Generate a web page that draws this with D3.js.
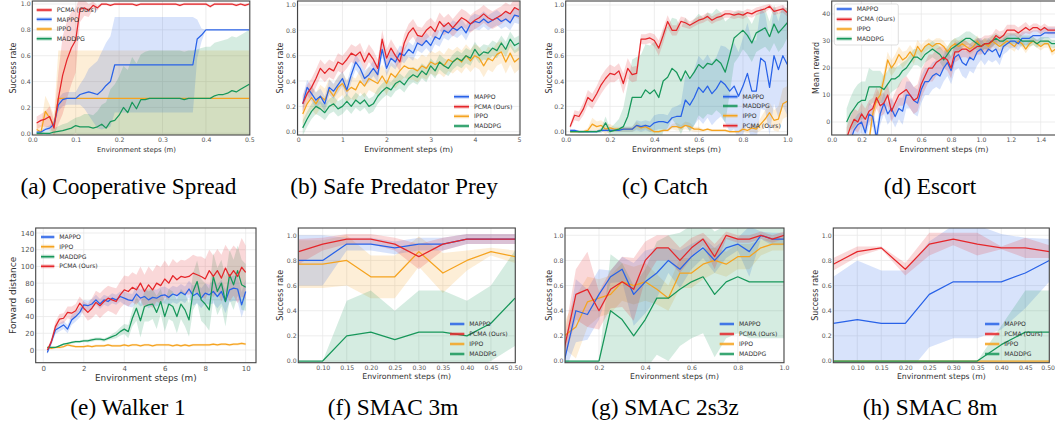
<!DOCTYPE html>
<html><head><meta charset="utf-8">
<script src="https://cdn.jsdelivr.net/npm/d3@7"></script>
<style>body{margin:0;background:#fff}svg{display:block}.cap{font-family:'Liberation Serif','Times New Roman',serif}</style>
</head><body><svg id="c" width="1055" height="429"></svg>
<script>
const steps = (start, step, n) => d3.range(n).map(i => +(start + i * step).toFixed(4));
const SERIES = ['mappo','pcma','ippo','maddpg'];
const NAMES = {mappo:'MAPPO', pcma:'PCMA (Ours)', ippo:'IPPO', maddpg:'MADDPG'};
const COLORS = {mappo:'#2862e8', pcma:'#e5262a', ippo:'#f5a31f', maddpg:'#17975a'};

// (a) Cooperative Spread
const a_x = steps(0.01, 0.01, 50);
const a_pcma = [0.08,0.10,0.11,0.13,0.04,0.27,0.45,0.57,0.66,0.72, 0.96,0.97,0.95,0.99,0.97,1.0,1.0,0.99,1.0,1.0, 1.0,1.0,1.0,0.99,1.0,1.0,1.0,1.0,1.0,1.0, 1.0,1.0,1.0,0.99,1.0,1.0,1.0,1.0,1.0,1.0, 0.98,1.0,1.0,1.0,1.0,1.0,0.99,1.0,0.99,1.0];
const a_pcma_sd = [0.05,0.05,0.06,0.08,0.06,0.2,0.3,0.3,0.28,0.25, 0.1,0.06,0.05,0.03,0.02,0.01,0.01,0.01,0.01,0.01, 0.01,0.01,0.01,0.01,0.01,0.01,0.01,0.01,0.01,0.01, 0.01,0.01,0.01,0.01,0.01,0.01,0.01,0.01,0.01,0.01, 0.01,0.01,0.01,0.01,0.01,0.01,0.01,0.01,0.01,0.01];
const a_mappo = [0.01,0.01,0.03,0.04,0.07,0.22,0.26,0.27,0.27,0.27, 0.30,0.31,0.32,0.31,0.30,0.33,0.37,0.40,0.53,0.53, 0.53,0.53,0.53,0.53,0.53,0.53,0.53,0.53,0.53,0.53, 0.53,0.53,0.53,0.53,0.53,0.53,0.53,0.73,0.76,0.80, 0.80,0.80,0.80,0.80,0.80,0.80,0.80,0.80,0.80,0.80];
const a_mappo_sd = [0.01,0.01,0.02,0.02,0.03,0.05,0.05,0.05,0.05,0.05, 0.08,0.12,0.18,0.22,0.26,0.3,0.33,0.35,0.37,0.37, 0.37,0.37,0.37,0.37,0.37,0.37,0.37,0.37,0.37,0.37, 0.37,0.37,0.37,0.37,0.37,0.37,0.37,0.15,0.05,0, 0,0,0,0,0,0,0,0,0,0];
const a_ippo = [0.03,0.01,0.17,0.12,0.06,0.27,0.27,0.27,0.27,0.27, 0.27,0.27,0.27,0.27,0.27,0.27,0.27,0.27,0.27,0.27, 0.27,0.27,0.27,0.27,0.27,0.27,0.27,0.27,0.27,0.27, 0.27,0.27,0.27,0.27,0.27,0.27,0.27,0.27,0.27,0.27, 0.27,0.27,0.27,0.27,0.27,0.27,0.27,0.27,0.27,0.27];
const a_ippo_sd = [0.05,0.05,0.12,0.1,0.08,0.37,0.37,0.37,0.37,0.37, 0.37,0.37,0.37,0.37,0.37,0.37,0.37,0.37,0.37,0.37, 0.37,0.37,0.37,0.37,0.37,0.37,0.37,0.37,0.37,0.37, 0.37,0.37,0.37,0.37,0.37,0.37,0.37,0.37,0.37,0.37, 0.37,0.37,0.37,0.37,0.37,0.37,0.37,0.37,0.37,0.37];
const a_maddpg = [0,0,0,0,0.01,0.015,0.02,0.03,0.04,0.06, 0.05,0.05,0.05,0.04,0.05,0.07,0.04,0.09,0.10,0.14, 0.20,0.16,0.24,0.19,0.26,0.26,0.27,0.27,0.27,0.27, 0.27,0.27,0.27,0.27,0.26,0.27,0.27,0.27,0.27,0.27, 0.27,0.29,0.30,0.30,0.31,0.33,0.32,0.34,0.36,0.38];
const a_maddpg_sd = [0.01,0.01,0.01,0.02,0.03,0.04,0.05,0.05,0.06,0.06, 0.08,0.1,0.1,0.1,0.12,0.15,0.2,0.25,0.28,0.3, 0.32,0.33,0.35,0.35,0.35,0.37,0.37,0.37,0.37,0.37, 0.37,0.37,0.37,0.37,0.37,0.37,0.37,0.38,0.39,0.40, 0.40,0.41,0.41,0.42,0.42,0.42,0.42,0.42,0.42,0.42];

// (b) Safe Predator Prey
const b_x = steps(0.1, 0.1, 50);
const b_mappo = [0.22,0.35,0.30,0.25,0.28,0.22,0.35,0.32,0.37,0.42, 0.33,0.45,0.55,0.50,0.42,0.45,0.50,0.45,0.65,0.50, 0.58,0.55,0.62,0.60,0.65,0.62,0.70,0.68,0.72,0.68, 0.75,0.73,0.80,0.78,0.82,0.80,0.83,0.78,0.85,0.87, 0.86,0.89,0.86,0.88,0.90,0.87,0.89,0.86,0.92,0.91];
const b_pcma = [0.22,0.30,0.35,0.42,0.50,0.46,0.50,0.48,0.55,0.53, 0.57,0.62,0.60,0.63,0.55,0.62,0.57,0.50,0.73,0.58, 0.66,0.60,0.55,0.70,0.78,0.82,0.76,0.75,0.80,0.83, 0.79,0.87,0.83,0.86,0.82,0.86,0.90,0.88,0.85,0.88, 0.90,0.93,0.90,0.88,0.90,0.92,0.95,0.93,0.98,0.96];
const b_ippo = [0.14,0.22,0.27,0.22,0.28,0.25,0.33,0.28,0.35,0.38, 0.32,0.35,0.33,0.40,0.36,0.42,0.40,0.38,0.44,0.38, 0.46,0.43,0.48,0.52,0.50,0.50,0.48,0.52,0.50,0.55, 0.53,0.55,0.52,0.57,0.55,0.58,0.55,0.60,0.56,0.60, 0.58,0.52,0.58,0.56,0.61,0.63,0.55,0.62,0.55,0.58];
const b_maddpg = [0.03,0.10,0.16,0.20,0.18,0.15,0.20,0.22,0.18,0.20, 0.24,0.20,0.25,0.22,0.25,0.20,0.22,0.28,0.32,0.35, 0.33,0.38,0.40,0.37,0.42,0.45,0.43,0.48,0.45,0.52, 0.48,0.55,0.52,0.50,0.55,0.58,0.56,0.60,0.58,0.65, 0.60,0.63,0.62,0.66,0.64,0.70,0.65,0.73,0.68,0.70];
const b_spread = [0.06, 0.07, 0.09, 0.06]; // mappo, pcma, ippo, maddpg

// (c) Catch
const c_x = steps(0.02, 0.02, 50);
const c_pcma = [0.04,0.13,0.12,0.18,0.27,0.24,0.30,0.37,0.42,0.46, 0.45,0.48,0.38,0.50,0.45,0.46,0.73,0.73,0.74,0.72, 0.66,0.76,0.87,0.80,0.80,0.87,0.86,0.84,0.86,0.88, 0.89,0.91,0.88,0.90,0.91,0.93,0.93,0.92,0.93,0.92, 0.94,0.93,0.95,0.96,0.97,0.99,0.95,0.96,0.97,0.94];
const c_pcma_sd = [0.02,0.04,0.04,0.05,0.06,0.06,0.06,0.07,0.07,0.07, 0.06,0.06,0.08,0.08,0.06,0.06,0.04,0.04,0.04,0.05, 0.06,0.06,0.05,0.04,0.04,0.04,0.04,0.03,0.03,0.03, 0.03,0.03,0.03,0.03,0.03,0.03,0.03,0.03,0.03,0.03, 0.03,0.03,0.03,0.03,0.03,0.02,0.03,0.03,0.03,0.03];
const c_mappo = [0.01,0.01,0,0,0,0,0,0.01,0.01,0.01, 0.01,0.01,0.02,0.02,0.02,0.05,0.04,0.05,0.04,0.07, 0.08,0.08,0.07,0.11,0.12,0.12,0.25,0.21,0.27,0.35, 0.31,0.36,0.30,0.34,0.40,0.37,0.32,0.36,0.28,0.36, 0.46,0.32,0.32,0.58,0.55,0.35,0.60,0.49,0.60,0.53];
const c_mappo_sd = [0.01,0.01,0.01,0.01,0.01,0.01,0.01,0.01,0.01,0.01, 0.01,0.01,0.02,0.02,0.02,0.04,0.04,0.04,0.04,0.06, 0.06,0.06,0.06,0.08,0.08,0.1,0.2,0.2,0.22,0.25, 0.25,0.25,0.25,0.25,0.28,0.3,0.32,0.34,0.35,0.38, 0.4,0.4,0.4,0.4,0.38,0.38,0.38,0.38,0.4,0.4];
const c_ippo = [0,0,0,0,0.01,0.06,0.04,0.05,0.02,0.03, 0.02,0.02,0.02,0.02,0.02,0.05,0.03,0.04,0.02,0, 0,0.01,0.01,0.04,0.04,0.03,0.05,0.04,0.02,0.02, 0.01,0.02,0.01,0.01,0.01,0.01,0,0,0,0.02, 0.01,0.03,0.02,0.06,0.10,0.15,0.09,0.10,0.22,0.24];
const c_ippo_sd = [0.01,0.01,0.01,0.01,0.02,0.05,0.04,0.04,0.04,0.03, 0.02,0.02,0.02,0.02,0.02,0.03,0.02,0.02,0.02,0.01, 0.01,0.01,0.01,0.02,0.03,0.02,0.03,0.03,0.02,0.02, 0.01,0.01,0.01,0.01,0.01,0.01,0.01,0.01,0.01,0.02, 0.02,0.03,0.03,0.05,0.07,0.08,0.08,0.1,0.12,0.12];
const c_maddpg = [0,0,0,0,0,0,0,0.01,0.07,0, 0.01,0.02,0.04,0.12,0.27,0.27,0.27,0.33,0.30,0.33, 0.27,0.40,0.43,0.50,0.47,0.40,0.48,0.42,0.47,0.53, 0.50,0.54,0.53,0.57,0.54,0.47,0.60,0.74,0.77,0.80, 0.76,0.70,0.78,0.80,0.82,0.75,0.85,0.78,0.82,0.86];
const c_maddpg_sd = [0.01,0.01,0.01,0.01,0.01,0.01,0.01,0.02,0.05,0.03, 0.05,0.08,0.15,0.25,0.3,0.32,0.34,0.36,0.38,0.38, 0.4,0.4,0.4,0.4,0.42,0.42,0.42,0.42,0.42,0.4, 0.4,0.4,0.4,0.4,0.4,0.4,0.3,0.2,0.18,0.15, 0.15,0.15,0.15,0.15,0.15,0.12,0.15,0.15,0.15,0.12];

// (d) Escort
const d_x = steps(0.1, 0.025, 57);
const d_mappo = [null,-7,-3,-1,0,-4,3,2,-6,3, 7,3,5,2,5,4,10,10,8,7, 12,15,15,17,18,17,20,22,19,24, 25,22,21,24,23,26,27,25,27,26, 27,24,28,29,30,30,29,31,31,31, 32,32,32,33,33,33,33];
const d_mappo_sd = [0,4,4,4,4,4,4,4,4,4, 4,4,4,4,4,5,5,5,5,5, 5,5,5,5,5,5,5,5,5,5, 5,5,5,5,5,5,4,4,4,4, 4,3,3,3,2.5,2.5,2.5,2.5,2.5,2.5, 2,2,2,2,2,2,2];
const d_pcma = [-6,-2,1,0,3,1,4,5,9,6, 7,10,4,7,10,11,12,10,8,9, 14,17,20,20,22,23,24,23,20,26, 26,27,27,26,27,28,28,29,29,30, 32,31,32,34,34,34,33,34,35,34, 35,35,34,35,34,34,34];
const d_pcma_sd = [4,4,4,4,4,4,4,4,4,4, 4,4,4,4,4,5,5,5,5,5, 5,5,5,5,5,5,4,4,4,4, 3,3,3,3,3,3,3,3,3,2.5, 2.5,2.5,2,2,2,2,2,2,2,1.5, 1.5,1.5,1.5,1.5,1.5,1.5,1.5];
const d_ippo = [null,null,null,null,null,null, -7,3,8,10,16,23,20,22,25,23, 24,26,24,28,26,28,29,28,29,29, 28,26,28,29,28,29,28,27,28,30, 28,29,28,30,29,28,29,30,29,28, 30,29,27,29,30,29,28,29,29,26,27];
const d_ippo_sd = [0,0,0,0,0,0, 3,3,3,3,3,3,3,3,3,3, 2.5,2.5,2.5,2.5,2.5,2,2,2,2,2, 2,2,2,2,2,2,2,2,2,2, 2,2,2,2,2,2,2,2,2,2, 1.5,1.5,1.5,1.5,1.5,1.5,1.5,1.5,1.5,1.5,1.5];
const d_maddpg = [0,3,5,7,8,8,13,13,13,13, 12,14,16,16,17,19,20,22,24,24, 23,25,26,27,26,25,23,25,27,28, 29,30,31,31,30,29,28,29,29,30, 31,30,30,31,31,31,31,30,30,30, 30,29,30,30,30,29,29];
const d_maddpg_sd = [5,6,7,7,7,7,7,6,6,6, 5,5,5,4,4,3,3,3,3,3, 3,3,3,3,3,3,3,3,3,3, 2.5,2.5,2.5,2.5,2.5,2.5,2,2,2,2, 2,2,2,2,2,2,2,2,2,2, 1.5,1.5,1.5,1.5,1.5,1.5,1.5];

// (e) Walker 1
const e_x = steps(0.2, 0.2, 50);
const e_mappo = [-3,10,24,27,30,25,36,40,45,54, 53,55,60,55,60,58,62,60,64,62, 60,59,67,62,64,60,63,62,65,66, 63,67,65,69,66,73,65,68,62,68, 66,70,64,70,58,72,74,73,54,70];
const e_mappo_sd = [2,4,5,5,5,5,6,6,6,6, 6,6,6,6,6,6,6,6,6,8, 8,8,10,10,10,10,10,10,10,10, 10,10,10,10,10,10,12,12,12,12, 12,14,14,14,14,15,15,15,15,15];
const e_ippo = [3,2,3,3,4,6,5,4,4,4, 5,4,5,5,5,6,5,5,5,6, 5,6,6,5,6,6,5,6,6,6, 6,5,6,5,6,5,6,6,6,6, 6,7,6,7,7,6,7,7,8,7];
const e_ippo_sd = [1.5];
const e_maddpg = [3,3,3,5,7,8,9,10,10,11, 11,12,13,13,12,14,16,18,22,25, 22,38,50,35,52,54,55,45,58,40, 55,52,40,55,48,36,70,82,60,55, 48,88,70,80,58,90,78,95,78,75];
const e_maddpg_sd = [1,1,1,1,1,1,1.5,1.5,1.5,1.5, 2,2,2,2,2,2,3,4,5,6, 8,10,15,20,18,20,18,20,15,18, 18,18,20,18,20,20,22,25,25,25, 25,28,28,28,30,30,30,30,30,28];
const e_pcma = [0,10,28,37,38,45,44,47,56,50, 45,50,57,53,58,62,60,58,66,72, 70,75,72,80,70,78,72,80,77,85, 80,89,84,88,87,88,92,90,88,85, 95,88,95,86,98,88,95,88,99,93];
const e_pcma_sd = [2,4,6,6,6,7,8,8,8,8, 10,12,14,15,15,15,15,16,16,17, 18,18,18,20,20,22,22,22,22,22, 20,20,20,20,20,22,22,22,24,24, 25,25,26,28,28,30,30,32,35,32];

// (f) SMAC 3m
const f_x = [0.05,0.10,0.15,0.20,0.25,0.30,0.35,0.40,0.45,0.50];
const f_mappo = [0.8,0.8,0.93,0.93,0.9,0.93,0.93,0.97,0.97,0.97];
const f_mappo_sd = [0.2,0.2,0.05,0.05,0.05,0.05,0.05,0.04,0.04,0.04];
const f_pcma = [0.87,0.93,0.97,0.97,0.93,0.83,0.93,0.97,0.97,0.97];
const f_pcma_sd = [0.1,0.05,0.04,0.04,0.05,0.1,0.05,0.04,0.04,0.04];
const f_ippo = [0.77,0.77,0.8,0.67,0.67,0.87,0.7,0.8,0.87,0.83];
const f_ippo_sd = [0.19,0.19,0.2,0.17,0.17,0.12,0.16,0.08,0.03,0.05];
const f_maddpg = [0,0,0.2,0.23,0.17,0.23,0.23,0.2,0.3,0.5];
const f_maddpg_sd = [0,0,0.28,0.33,0.23,0.33,0.33,0.28,0.3,0.38];

// (g) SMAC 2s3z
const g_x = steps(0.05, 0.05, 20);
const g_mappo = [0.0,0.4,0.37,0.53,0.67,0.73,0.53,0.63,0.7,0.8,0.73,0.83,0.9,0.8,0.9,0.93,0.87,1.0,0.97,0.97];
const g_mappo_sd = [0.1,0.25,0.2,0.2,0.05,0.1,0.25,0.25,0.2,0.1,0.15,0.1,0.08,0.1,0.08,0.05,0.2,0.03,0.05,0.05];
const g_pcma = [0.1,0.53,0.57,0.4,0.57,0.63,0.57,0.8,0.9,0.9,0.8,0.9,0.97,0.83,1.0,0.97,0.97,1.0,0.97,1.0];
const g_pcma_sd = [0.1,0.2,0.3,0.15,0.15,0.2,0.25,0.15,0.1,0.1,0.1,0.08,0.05,0.1,0.03,0.03,0.03,0.03,0.03,0.03];
const g_ippo = [0.2,0.27,0.47,0.5,0.53,0.63,0.6,0.63,0.57,0.5,0.7,0.7,0.77,0.8,0.77,0.83,0.83,0.9,0.93,0.93];
const g_ippo_sd = [0.1,0.25,0.2,0.15,0.15,0.15,0.15,0.15,0.12,0.1,0.12,0.12,0.12,0.1,0.1,0.1,0.1,0.06,0.05,0.05];
const g_maddpg = [0,0,0,0,0.4,0.33,0.2,0.33,0.5,0.5,0.57,0.63,0.67,0.53,0.63,0.67,0.63,0.63,0.63,0.63];
const g_maddpg_sd = [0,0,0,0,0.45,0.45,0.4,0.4,0.45,0.5,0.45,0.45,0.45,0.5,0.45,0.45,0.45,0.45,0.45,0.45];

// (h) SMAC 8m
const h_x = [0.05,0.10,0.15,0.20,0.25,0.30,0.35,0.40,0.45,0.50];
const h_mappo = [0.3,0.33,0.3,0.3,0.53,0.63,0.63,0.63,0.7,0.8];
const h_mappo_sd = [0.37,0.47,0.42,0.42,0.42,0.45,0.45,0.38,0.28,0.17];
const h_pcma = [0.77,0.87,0.9,0.73,0.93,0.97,0.93,0.9,0.9,0.87];
const h_pcma_sd = [0.05,0.04,0.01,0.05,0.09,0.05,0.09,0.01,0.08,0.05];
const h_ippo = [0,0,0,0,0,0,0,0,0,0];
const h_ippo_sd = [0];
const h_maddpg = [0,0,0,0,0,0,0,0.13,0.23,0.23];
const h_maddpg_sd = [0,0,0,0,0,0,0,0.15,0.33,0.33];

// tick labels
const ticks01 = [0,0.2,0.4,0.6,0.8,1.0];
const a_xticks = [0,0.1,0.2,0.3,0.4,0.5];
const b_xticks = [0,1,2,3,4,5];
const c_xticks = [0,0.2,0.4,0.6,0.8,1.0];
const d_xticks = [0,0.2,0.4,0.6,0.8,1.0,1.2,1.4];
const d_yticks = [0,10,20,30,40];
const e_xticks = [0,2,4,6,8,10];
const e_yticks = [0,20,40,60,80,100,120,140];
const fh_xticks = [0.10,0.15,0.20,0.25,0.30,0.35,0.40,0.45,0.50];
const g_xticks = [0.2,0.4,0.6,0.8,1.0];
const captions = ['(a) Cooperative Spread','(b) Safe Predator Prey','(c) Catch','(d) Escort','(e) Walker 1','(f) SMAC 3m','(g) SMAC 2s3z','(h) SMAC 8m'];

const expand = (v, n) => v.length === 1 ? d3.range(n).map(() => v[0]) : v;

const panels = [
  {x:a_x, d:{mappo:[a_mappo,a_mappo_sd], pcma:[a_pcma,a_pcma_sd], ippo:[a_ippo,a_ippo_sd], maddpg:[a_maddpg,a_maddpg_sd]},
   frame:[32.3,1,249.8,135], xa:[0,32.3,0.5,249.3], ya:[0,133.3,1,4], xt:a_xticks, yt:ticks01, xf:'.1f', yf:'.1f',
   yl:'Success rate', ylx:13.3, xlx:136.5, xly:151.7, tf:6.2, xlf:6.9, ylf:8, pad:2.3,
   leg:{x:36.7, len:15, ys:[10,19.3,29,38.7], order:['pcma','mappo','ippo','maddpg'], f:6.3}, cap:[128.5,194]},
  {x:b_x, d:{mappo:[b_mappo,[b_spread[0]]], pcma:[b_pcma,[b_spread[1]]], ippo:[b_ippo,[b_spread[2]]], maddpg:[b_maddpg,[b_spread[3]]]},
   frame:[297.5,1,520,135], xa:[0,298.3,5,519], ya:[0,131.7,1,5], xt:b_xticks, yt:ticks01, xf:'d', yf:'.1f',
   yl:'Success rate', ylx:280, xlx:408.7, xly:151.7, tf:6.2, xlf:7.75, ylf:8, pad:2.3,
   leg:{x:454, len:15, ys:[96.7,106.7,116.3,126], order:['mappo','pcma','ippo','maddpg'], f:6.1}, cap:[394,194]},
  {x:c_x, d:{mappo:[c_mappo,c_mappo_sd], pcma:[c_pcma,c_pcma_sd], ippo:[c_ippo,c_ippo_sd], maddpg:[c_maddpg,c_maddpg_sd]},
   frame:[565.7,1,787.5,135], xa:[0,565.7,1,787.3], ya:[0,131.7,1,5], xt:c_xticks, yt:ticks01, xf:'.1f', yf:'.1f',
   yl:'Success rate', ylx:548.7, xlx:676.5, xly:151.7, tf:6.2, xlf:7.75, ylf:8, pad:2.3,
   leg:{x:723, len:14.5, ys:[96.7,106,115.7,125.7], order:['mappo','maddpg','ippo','pcma'], f:6.1}, cap:[665,194]},
  {x:d_x, d:{mappo:[d_mappo,d_mappo_sd], pcma:[d_pcma,d_pcma_sd], ippo:[d_ippo,d_ippo_sd], maddpg:[d_maddpg,d_maddpg_sd]},
   frame:[831.7,1,1056.3,135], xa:[0,831.7,1.4,1040.7], ya:[0,122,40,14], xt:d_xticks, yt:d_yticks, xf:'.1f', yf:'d',
   yl:'Mean reward', ylx:815.7, xlx:944, xly:151.7, tf:6.2, xlf:7.75, ylf:8, pad:2.3,
   leg:{x:836.7, len:15, ys:[9,19.3,29,38.7], order:['mappo','pcma','ippo','maddpg'], f:6.1, box:[834.3,4,898.3,45]}, cap:[930,194]},
  {x:e_x, d:{mappo:[e_mappo,e_mappo_sd], pcma:[e_pcma,e_pcma_sd], ippo:[e_ippo,e_ippo_sd], maddpg:[e_maddpg,e_maddpg_sd]},
   frame:[35.7,228,256,362.7], xa:[0,43.3,10,245.7], ya:[0,350,140,233], xt:e_xticks, yt:e_yticks, xf:'d', yf:'d',
   yl:'Forward distance', ylx:12.3, xlx:145.8, xly:380.7, tf:7, xlf:8.9, ylf:9, pad:3.3,
   leg:{x:41, len:13.3, ys:[237,246.7,256.7,266.3], order:['mappo','ippo','maddpg','pcma'], f:6.1}, cap:[128,415]},
  {x:f_x, d:{mappo:[f_mappo,f_mappo_sd], pcma:[f_pcma,f_pcma_sd], ippo:[f_ippo,f_ippo_sd], maddpg:[f_maddpg,f_maddpg_sd]},
   frame:[298.3,228,515.3,362.7], xa:[0.1,322.7,0.5,515], ya:[0,361,1,235.3], xt:fh_xticks, yt:ticks01, xf:'.2f', yf:'.1f',
   yl:'Success rate', ylx:280, xlx:406.7, xly:379.3, tf:6.2, xlf:7.75, ylf:8, pad:3.3,
   leg:{x:450, len:14.3, ys:[324,334,344,354], order:['mappo','pcma','ippo','maddpg'], f:6.1}, cap:[393,415]},
  {x:g_x, d:{mappo:[g_mappo,g_mappo_sd], pcma:[g_pcma,g_pcma_sd], ippo:[g_ippo,g_ippo_sd], maddpg:[g_maddpg,g_maddpg_sd]},
   frame:[565,228,784,362.7], xa:[0.2,599,1.0,784], ya:[0,361,1,235.3], xt:g_xticks, yt:ticks01, xf:'.1f', yf:'.1f',
   yl:'Success rate', ylx:548.7, xlx:674.5, xly:379.3, tf:6.2, xlf:7.75, ylf:8, pad:3.3,
   leg:{x:719.7, len:14.3, ys:[324,334,344,354], order:['mappo','pcma','ippo','maddpg'], f:6.1}, cap:[665,415]},
  {x:h_x, d:{mappo:[h_mappo,h_mappo_sd], pcma:[h_pcma,h_pcma_sd], ippo:[h_ippo,h_ippo_sd], maddpg:[h_maddpg,h_maddpg_sd]},
   frame:[833.3,228,1049.3,362.7], xa:[0.1,857.3,0.5,1049.3], ya:[0,361,1,235.3], xt:fh_xticks, yt:ticks01, xf:'.2f', yf:'.1f',
   yl:'Success rate', ylx:815, xlx:941.3, xly:379.3, tf:6.2, xlf:7.75, ylf:8, pad:3.3,
   leg:{x:985, len:14.3, ys:[324,334,344,354], order:['mappo','pcma','ippo','maddpg'], f:6.1}, cap:[930,415]}
];

const svg = d3.select('#c');
svg.append('rect').attr('width',1055).attr('height',429).attr('fill','#fff');
const FONT = "'DejaVu Sans', sans-serif";
const drawOrder = ['ippo','mappo','maddpg','pcma'];

panels.forEach((p, i) => {
  const [l,t,r,b] = p.frame;
  const sx = d3.scaleLinear().domain([p.xa[0], p.xa[2]]).range([p.xa[1], p.xa[3]]);
  const sy = d3.scaleLinear().domain([p.ya[0], p.ya[2]]).range([p.ya[1], p.ya[3]]);
  const g = svg.append('g');
  const cid = 'clip' + i;
  g.append('clipPath').attr('id', cid).append('rect').attr('x', l).attr('y', t).attr('width', r - l).attr('height', b - t);

  const grid = g.append('g').attr('clip-path', `url(#${cid})`);
  grid.selectAll('line.gx').data(p.xt).join('line').attr('class','gx')
    .attr('x1', d => sx(d)).attr('x2', d => sx(d)).attr('y1', t).attr('y2', b)
    .attr('stroke', '#e8e8e8').attr('stroke-width', 0.8);
  grid.selectAll('line.gy').data(p.yt).join('line').attr('class','gy')
    .attr('y1', d => sy(d)).attr('y2', d => sy(d)).attr('x1', l).attr('x2', r)
    .attr('stroke', '#e8e8e8').attr('stroke-width', 0.8);

  const plot = g.append('g').attr('clip-path', `url(#${cid})`);
  const pts = k => {
    const [m, s] = p.d[k];
    const sd = expand(s, p.x.length);
    return p.x.map((x, j) => ({x, m: m[j], s: sd[j]}));
  };
  drawOrder.forEach(k => {
    plot.append('path').datum(pts(k))
      .attr('d', d3.area().defined(d => d.m != null).x(d => sx(d.x)).y0(d => sy(d.m - d.s)).y1(d => sy(d.m + d.s)))
      .attr('fill', COLORS[k]).attr('fill-opacity', 0.18);
  });
  drawOrder.forEach(k => {
    plot.append('path').datum(pts(k))
      .attr('d', d3.line().defined(d => d.m != null).x(d => sx(d.x)).y(d => sy(d.m)))
      .attr('fill', 'none').attr('stroke', COLORS[k]).attr('stroke-width', 1.25).attr('stroke-linejoin', 'round');
  });

  g.append('rect').attr('x', l).attr('y', t).attr('width', r - l).attr('height', b - t)
    .attr('fill', 'none').attr('stroke', '#444').attr('stroke-width', 1.1);

  const ax = g.append('g').attr('transform', `translate(0,${b})`)
    .call(d3.axisBottom(sx).tickValues(p.xt).tickFormat(d3.format(p.xf)).tickSize(0).tickPadding(p.pad));
  ax.select('.domain').remove();
  ax.attr('font-size', p.tf).attr('font-family', FONT);
  ax.selectAll('text').attr('fill', '#555');
  // keep an edge label inside the picture
  ax.selectAll('.tick').filter(d => sx(d) + 8 > 1055).select('text')
    .attr('text-anchor', 'end').attr('x', d => 1054.5 - sx(d));

  const ay = g.append('g').attr('transform', `translate(${l},0)`)
    .call(d3.axisLeft(sy).tickValues(p.yt).tickFormat(d3.format(p.yf)).tickSize(0).tickPadding(1.6));
  ay.select('.domain').remove();
  ay.attr('font-size', p.tf).attr('font-family', FONT);
  ay.selectAll('text').attr('fill', '#555');

  g.append('text').attr('x', p.xlx).attr('y', p.xly).attr('text-anchor', 'middle')
    .attr('font-family', FONT).attr('font-size', p.xlf).attr('fill', '#333').text('Environment steps (m)');
  const cy = (t + b) / 2;
  g.append('text').attr('transform', `translate(${p.ylx + p.ylf * 0.36},${cy}) rotate(-90)`).attr('text-anchor', 'middle')
    .attr('font-family', FONT).attr('font-size', p.ylf).attr('fill', '#333').text(p.yl);

  const L = p.leg;
  const lg = g.append('g');
  if (L.box) {
    lg.append('rect').attr('x', L.box[0]).attr('y', L.box[1]).attr('width', L.box[2] - L.box[0]).attr('height', L.box[3] - L.box[1])
      .attr('rx', 2).attr('fill', '#fff').attr('fill-opacity', 0.85).attr('stroke', '#d0d0d0').attr('stroke-width', 0.7);
  }
  L.order.forEach((k, j) => {
    const y = L.ys[j];
    lg.append('line').attr('x1', L.x).attr('x2', L.x + L.len).attr('y1', y).attr('y2', y)
      .attr('stroke', COLORS[k]).attr('stroke-opacity', 0.25).attr('stroke-width', 4);
    lg.append('line').attr('x1', L.x).attr('x2', L.x + L.len).attr('y1', y).attr('y2', y)
      .attr('stroke', COLORS[k]).attr('stroke-width', 1.6);
    lg.append('text').attr('x', L.x + L.len + 5).attr('y', y).attr('dy', '0.35em')
      .attr('font-family', FONT).attr('font-size', L.f).attr('fill', '#333').text(NAMES[k]);
  });

  svg.append('text').attr('class', 'cap').attr('x', p.cap[0]).attr('y', p.cap[1]).attr('text-anchor', 'middle')
    .attr('font-family', "'Liberation Serif', 'Times New Roman', serif").attr('font-size', 23.3).attr('fill', '#000')
    .text(captions[i]);
});
</script></body></html>
